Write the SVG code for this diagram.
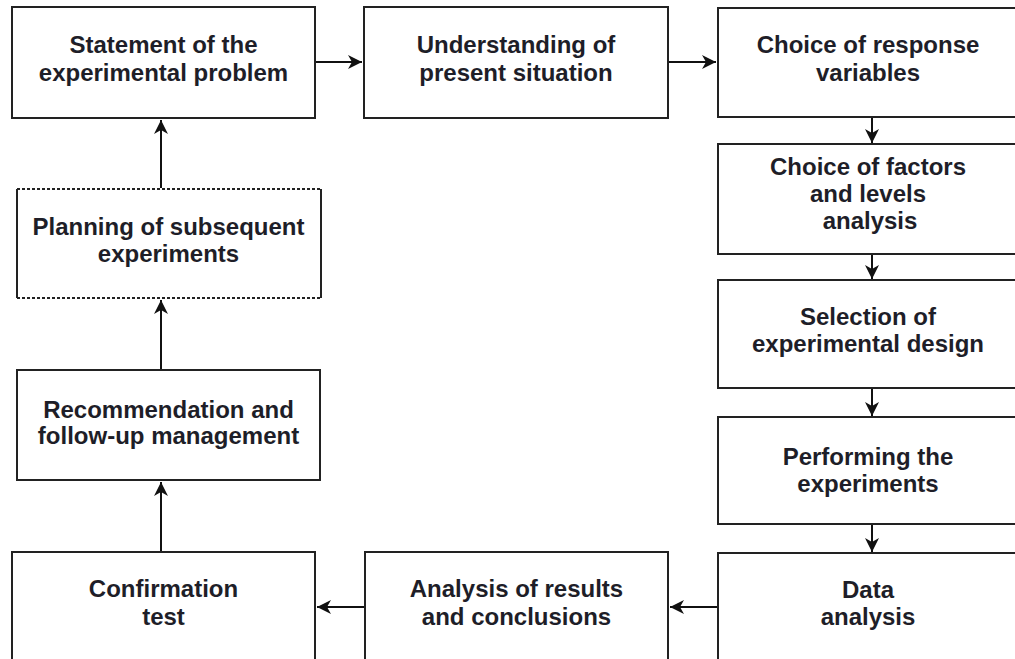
<svg xmlns="http://www.w3.org/2000/svg" width="1015" height="659" viewBox="0 0 1015 659">
<style>
.box{fill:#fff;stroke:#222;stroke-width:2}
.t{font-family:"Liberation Sans",Arial,sans-serif;font-weight:bold;font-size:24px;fill:#1e1e28;text-anchor:middle}
.c{fill:none;stroke:#111;stroke-width:2;marker-end:url(#ah)}
.dot{stroke:#222;stroke-width:2;stroke-dasharray:3 2;fill:none}
.side{stroke:#222;stroke-width:2;fill:none}
</style>
<defs>
<marker id="ah" markerUnits="userSpaceOnUse" markerWidth="16" markerHeight="14" refX="14" refY="7" orient="auto">
<path d="M0,0 L14,7 L0,14 L4,7 z" fill="#111"/>
</marker>
</defs>
<rect width="1015" height="659" fill="#fff"/>
<g id="n-statement"><rect class="box" x="12" y="7" width="303" height="111"/><text class="t" x="163.5" y="53">Statement of the</text><text class="t" x="163.5" y="81">experimental problem</text></g>
<g id="n-understanding"><rect class="box" x="364" y="7" width="304" height="111"/><text class="t" x="516" y="53">Understanding of</text><text class="t" x="516" y="81">present situation</text></g>
<g id="n-response"><rect class="box" x="718" y="8" width="310" height="109"/><text class="t" x="868" y="53">Choice of response</text><text class="t" x="868" y="81">variables</text></g>
<g id="n-factors"><rect class="box" x="718" y="144" width="310" height="110"/><text class="t" x="868" y="175">Choice of factors</text><text class="t" x="868" y="202">and levels</text><text class="t" x="870" y="229">analysis</text></g>
<g id="n-selection"><rect class="box" x="718" y="280" width="310" height="108"/><text class="t" x="868" y="325">Selection of</text><text class="t" x="868" y="352">experimental design</text></g>
<g id="n-performing"><rect class="box" x="718" y="417" width="310" height="107"/><text class="t" x="868" y="465">Performing the</text><text class="t" x="868" y="492">experiments</text></g>
<g id="n-data"><rect class="box" x="718" y="553" width="310" height="120"/><text class="t" x="868" y="598">Data</text><text class="t" x="868" y="625">analysis</text></g>
<g id="n-analysis"><rect class="box" x="365" y="552" width="303" height="120"/><text class="t" x="516.5" y="597">Analysis of results</text><text class="t" x="516.5" y="625">and conclusions</text></g>
<g id="n-confirmation"><rect class="box" x="12" y="552" width="303" height="120"/><text class="t" x="163.5" y="597">Confirmation</text><text class="t" x="163.5" y="625">test</text></g>
<g id="n-recommendation"><rect class="box" x="17" y="370" width="303" height="110"/><text class="t" x="168.5" y="418">Recommendation and</text><text class="t" x="168.5" y="444">follow-up management</text></g>
<g id="n-planning"><rect x="17" y="189" width="304" height="109" fill="#fff"/><path class="side" d="M17,189 V298 M321,189 V298"/><path class="dot" d="M17,189 H321 M17,298 H321"/><text class="t" x="168.5" y="235">Planning of subsequent</text><text class="t" x="168.5" y="262">experiments</text></g>
<g id="connectors">
<path class="c" d="M316,62 H362"/>
<path class="c" d="M669,62 H716"/>
<path class="c" d="M872,118 V143"/>
<path class="c" d="M872,255 V279"/>
<path class="c" d="M872,389 V416"/>
<path class="c" d="M872,525 V552"/>
<path class="c" d="M717,607 H670"/>
<path class="c" d="M364,607 H317"/>
<path class="c" d="M161,551 V482"/>
<path class="c" d="M161,369 V300"/>
<path class="c" d="M161,188 V120"/>
</g>
</svg>
